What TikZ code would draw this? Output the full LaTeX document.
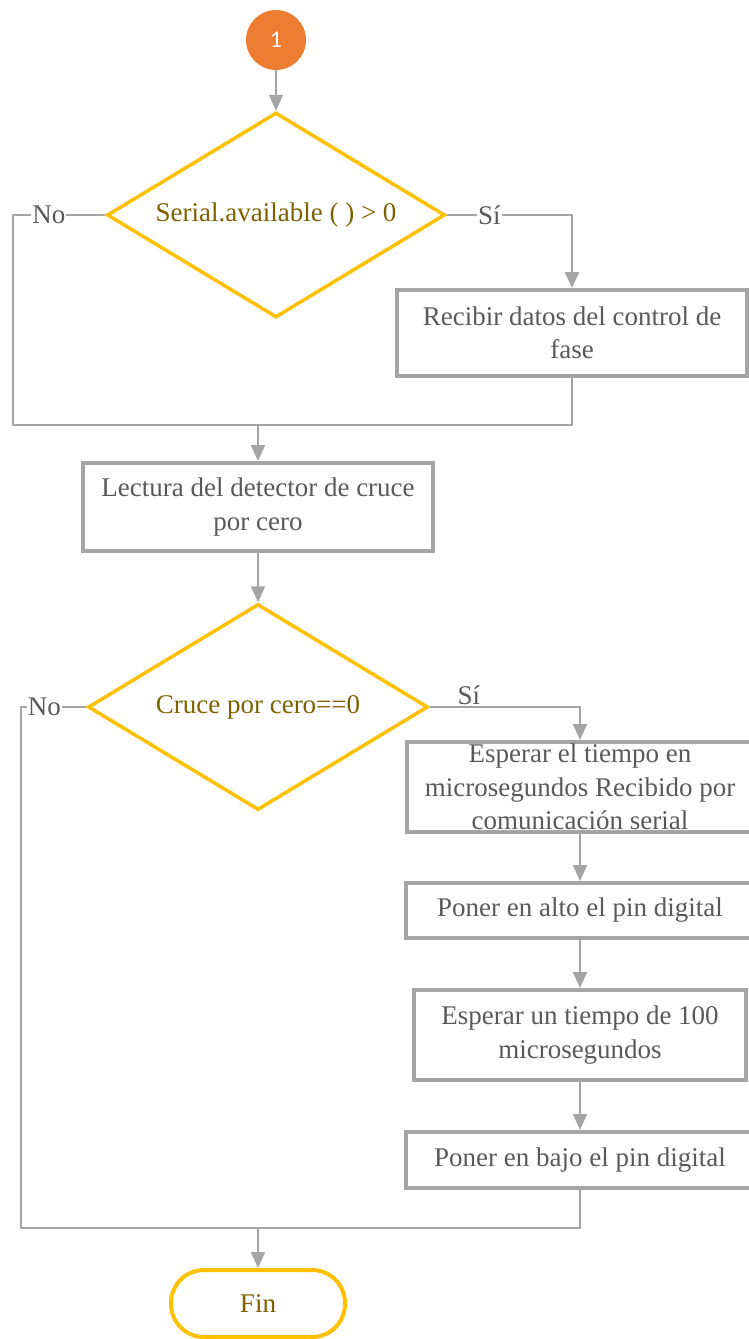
\documentclass[tikz,border=0pt]{standalone}
\usepackage{fontspec}
\setmainfont{Liberation Serif}
\newfontfamily\tnr{Liberation Serif}
\newfontfamily\carlito{Carlito}
\usetikzlibrary{arrows.meta,shapes.geometric}
\definecolor{lgray}{HTML}{A5A5A5}
\definecolor{tgray}{HTML}{595959}
\definecolor{gold}{HTML}{FFC000}
\definecolor{dgold}{HTML}{7F6000}
\definecolor{orng}{HTML}{ED7D31}
\begin{document}
\begin{tikzpicture}[x=1pt,y=-1pt,
  procbox/.style={draw=lgray,line width=4pt,rectangle,align=center,text=tgray,
    font=\tnr\fontsize{27}{33.5}\selectfont,inner sep=0pt},
  decision/.style={draw=gold,line width=3.5pt,diamond,shape aspect=1.65,inner sep=0pt,
    text=dgold,font=\tnr\fontsize{27}{33}\selectfont},
  terminal/.style={draw=gold,line width=4pt,rectangle,rounded corners=33pt,inner sep=0pt,
    text=dgold,font=\tnr\fontsize{27}{33}\selectfont},
  connector/.style={circle,fill=orng,inner sep=0pt,minimum size=60pt,text=white,
    font=\carlito\fontsize{24}{24}\selectfont},
  conn/.style={draw=lgray,line width=2.2pt},
  arr/.style={conn,-{Triangle[length=16pt,width=14pt]}},
  lbl/.style={text=tgray,font=\tnr\fontsize{27}{30}\selectfont,fill=white,inner sep=1pt},
  lblup/.style={text=tgray,font=\tnr\fontsize{27}{30}\selectfont,inner sep=1pt,anchor=south},
]
\useasboundingbox (0,0) rectangle (749,1339);

\node[connector] (c1) at (276,40) {1};
\node[decision,minimum width=338pt,minimum height=205pt] (d1) at (276,215) {Serial.available ( ) > 0};
\node[procbox,minimum width=350pt,minimum height=86pt] (b1) at (572,333) {Recibir datos del control de\\fase};
\node[procbox,minimum width=350pt,minimum height=88pt] (b2) at (258,507) {Lectura del detector de cruce\\por cero};
\node[decision,minimum width=340pt,minimum height=206pt] (d2) at (258,707) {Cruce por cero==0};
\node[procbox,minimum width=346pt,minimum height=90pt] (b3) at (580,787) {Esperar el tiempo en\\microsegundos Recibido por\\comunicación serial};
\node[procbox,minimum width=348pt,minimum height=55pt] (b4) at (580,910.5) {Poner en alto el pin digital};
\node[procbox,minimum width=332pt,minimum height=90pt] (b5) at (580,1035) {Esperar un tiempo de 100\\microsegundos};
\node[procbox,minimum width=348pt,minimum height=56pt] (b6) at (580,1160) {Poner en bajo el pin digital};
\node[terminal,minimum width=174pt,minimum height=67pt] (fin) at (258,1303.5) {Fin};

\coordinate (nl1) at (13,215);
\coordinate (m1) at (258,425);
\coordinate (nl2) at (21,707);
\coordinate (m2) at (258,1228);

\draw[arr] (c1.south) -- (d1.north);
\draw[conn] (d1.west) -- node[lbl,pos=0.61]{No} (nl1) |- (m1);
\draw[arr] (d1.east) -| node[lbl,pos=0.17]{Sí} (b1.north);
\draw[conn] (b1.south) |- (m1);
\draw[arr] (m1) -- (b2.north);
\draw[arr] (b2.south) -- (d2.north);
\draw[conn] (d2.west) -- node[lbl,pos=0.64]{No} (nl2) |- (m2);
\draw[arr] (d2.east) -| node[lblup,pos=0.13]{Sí} (b3.north);
\draw[arr] (b3.south) -- (b4.north);
\draw[arr] (b4.south) -- (b5.north);
\draw[arr] (b5.south) -- (b6.north);
\draw[conn] (b6.south) |- (m2);
\draw[arr] (m2) -- (fin.north);
\end{tikzpicture}
\end{document}
